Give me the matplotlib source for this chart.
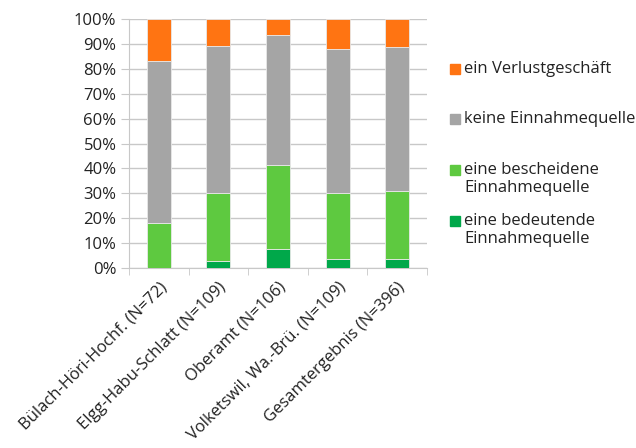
import numpy as np
import matplotlib.pyplot as plt
from matplotlib.patches import Rectangle

plt.rcParams['font.family'] = ['Open Sans', 'DejaVu Sans']

categories = ['Bülach-Höri-Hochf. (N=72)', 'Elgg-Habu-Schlatt (N=109)', 'Oberamt (N=106)',
              'Volketswil, Wa.-Brü. (N=109)', 'Gesamtergebnis (N=396)']
bedeutend = [0.0, 2.7, 7.5, 3.6, 3.6]
bescheiden = [18.0, 27.4, 33.9, 26.5, 27.3]
keine = [65.3, 58.9, 52.2, 58.0, 58.0]
verlust = [16.7, 11.0, 6.4, 11.9, 11.1]

series_names = ['ein Verlustgeschäft', 'keine Einnahmequelle', 'eine bescheidene\nEinnahmequelle',
                'eine bedeutende\nEinnahmequelle']
colors = ['#ff7412', '#a5a5a5', '#5ec940', '#00a84a']

fig = plt.figure(figsize=(6.36, 4.48), dpi=100)
ax = fig.add_axes([129/636, 1-268/448, 298/636, 249/448])

x = np.arange(len(categories))
w = 0.4
ec = '#e8e8e8'
ax.bar(x, bedeutend, w, color=colors[3], edgecolor=ec, linewidth=0.6, zorder=3)
ax.bar(x, bescheiden, w, bottom=bedeutend, color=colors[2], edgecolor=ec, linewidth=0.6, zorder=3)
bot3 = np.array(bedeutend) + np.array(bescheiden)
ax.bar(x, keine, w, bottom=bot3, color=colors[1], edgecolor=ec, linewidth=0.6, zorder=3)
bot4 = bot3 + np.array(keine)
ax.bar(x, verlust, w, bottom=bot4, color=colors[0], edgecolor=ec, linewidth=0.6, zorder=3)

fs = 12
ax.set_xlim(-0.5, len(categories) - 0.5)
ax.set_ylim(0, 100)
ax.set_yticks(range(0, 101, 10))
ax.set_yticklabels([f'{v}%' for v in range(0, 101, 10)], fontsize=fs, color='#222222')
ax.yaxis.grid(True, color='#c8c8c8', linewidth=1, zorder=0)
ax.tick_params(axis='y', length=6, color='#c8c8c8', pad=3)

ax.set_xticks(x)
ax.set_xticklabels(categories, rotation=45, ha='right', rotation_mode='anchor', fontsize=fs, color='#222222')
ax.tick_params(axis='x', length=0, pad=8)
ax.set_xticks(np.arange(-0.5, len(categories)), minor=True)
ax.tick_params(axis='x', which='minor', length=5, color='#c8c8c8')

for s in ['top', 'right']:
    ax.spines[s].set_visible(False)
ax.spines['left'].set_color('#c8c8c8')
ax.spines['bottom'].set_color('#c8c8c8')

# legend drawn by hand so the entry spacing matches
H = 448
leg_y = [69, 119, 170, 221]
for yy, name, col in zip(leg_y, series_names, colors):
    fig.patches.append(Rectangle((450/636, 1-(yy+5)/H), 10/636, 10/H, color=col,
                                 transform=fig.transFigure, figure=fig))
    for i, line in enumerate(name.split('\n')):
        fig.text(464/636, 1-(yy+i*18)/H, line, fontsize=fs, color='#222222', va='center')

plt.savefig('out.png', dpi=100)
